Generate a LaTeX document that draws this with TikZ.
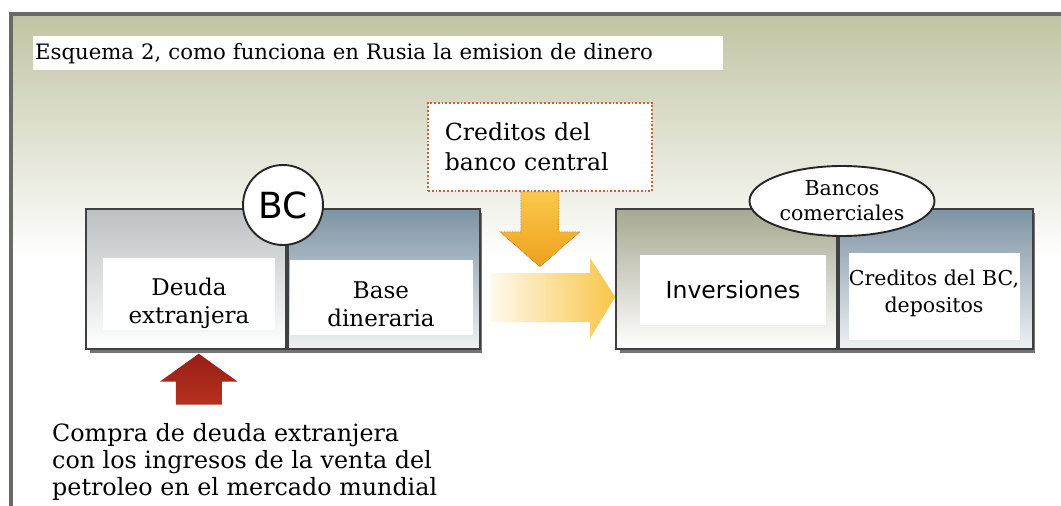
\documentclass[tikz,border=0pt]{standalone}
\usepackage{fontspec}
\setmainfont{DejaVu Serif}
\setsansfont{DejaVu Sans}
\usetikzlibrary{shapes.geometric,shadows,positioning}

\definecolor{frameline}{HTML}{676A66}
\definecolor{olivetop}{HTML}{C0C4A2}
\definecolor{bcgray}{HTML}{BCC0C2}
\definecolor{bcblue}{HTML}{7D93A3}
\definecolor{bcblueb}{HTML}{EEF1F3}
\definecolor{oliveside}{HTML}{A6A88F}
\definecolor{panelline}{HTML}{3E4042}
\definecolor{dotorange}{HTML}{C8622E}
\definecolor{yelA}{HTML}{F9C94C}
\definecolor{yelB}{HTML}{EEA01C}
\definecolor{redA}{HTML}{941E14}
\definecolor{redB}{HTML}{B63020}

\newcommand{\fsz}[2]{\fontsize{#1}{#2}\selectfont}

\begin{document}
\begin{tikzpicture}[x=1pt, y=-1pt,
    panel/.style={fill=white, minimum height=140pt, inner sep=0pt,
        drop shadow={shadow xshift=5pt, shadow yshift=-5pt, fill=black!55, opacity=1}},
    half/.style={draw=panelline, line width=1.9pt, minimum height=140pt, inner sep=0pt, anchor=north west},
    slot/.style={fill=white, inner sep=0pt},
    slottext/.style={inner sep=0pt, align=center, font=\fsz{23}{28}},
    titlebox/.style={fill=white, anchor=north west, inner sep=2pt, text width=686pt,
        minimum height=34pt, align=left, font=\fsz{21.2}{24}},
    credbox/.style={draw=dotorange, line width=1.8pt, dotted, fill=white, anchor=north west,
        minimum width=224pt, minimum height=88pt, text width=190pt, align=left, font=\fsz{23.5}{30}},
    bubble/.style={ellipse, draw=black!85, line width=1.9pt, fill=white, inner sep=0pt, align=center},
    yelarrow/.style={top color=yelA, bottom color=yelB, draw=dotorange!80!black, line width=0.6pt, densely dotted},
    redarrow/.style={top color=redA, bottom color=redB}
]
\useasboundingbox (0,0) rectangle (1061,506);
\fill[white] (0,0) rectangle (1061,506);
\shade[top color=olivetop, bottom color=white] (11,14) rectangle (1061,260);
\draw[frameline, line width=3.5pt] (11,506) -- (11,14) -- (1061,14);

\node[titlebox] (title) at (33,36) {Esquema 2, como funciona en Rusia la emision de dinero};

\node[panel, minimum width=392pt] (bc) at (281,278) {};
\node[half, minimum width=200pt, top color=bcgray, bottom color=white] (bcdebt) at (bc.north west) {};
\node[half, minimum width=192pt, top color=bcblue, bottom color=bcblueb, right=0pt of bcdebt] (bcbase) {};
\node[slot, minimum width=172pt, minimum height=72pt] (debt) at (189,294) {};
\node[slot, minimum width=183pt, minimum height=75pt] (base) at (381,297) {};
\node[slottext] (debttext) at ([yshift=-9pt]debt) {Deuda\\extranjera};
\node[slottext] (basetext) at ([yshift=-7pt]base) {Base\\dineraria};
\node[circle, draw=black!85, line width=1.9pt, fill=white, minimum size=80pt, inner sep=0pt,
    font=\sffamily\fsz{36}{36}] (bcmark) at (283,205) {BC};

\node[panel, minimum width=415pt] (bank) at (822.5,278) {};
\node[half, minimum width=221pt, top color=oliveside, bottom color=white] (bankinv) at (bank.north west) {};
\node[half, minimum width=194pt, top color=bcblue, bottom color=bcblueb, right=0pt of bankinv] (bankdep) {};
\node[slot, minimum width=186pt, minimum height=70pt] (invest) at (733,290) {};
\node[slot, minimum width=171pt, minimum height=87pt] (deposit) at (934,296) {};
\node[slottext, font=\sffamily\fsz{23.5}{28}] (investtext) at (invest) {Inversiones};
\node[slottext, font=\fsz{20.5}{27}] (deposittext) at ([yshift=3pt]deposit) {Creditos del BC,\\depositos};
\node[bubble, minimum width=185pt, minimum height=70pt, font=\fsz{20.5}{25}] (banks) at (842,201) {Bancos\\comerciales};

\node[credbox] (credits) at (427,102) {Creditos del\\banco central};

\path[yelarrow] (credits.south) ++(-19,0) -- ++(38,0) -- ++(0,40) -- ++(21,0)
    -- ++(-40,35) -- ++(-40,-35) -- ++(21,0) -- cycle;
\path[left color=white, right color=yelA!90!yelB] (bc.east) ++(13,-5) -- ++(100,0) -- ++(0,-15)
    -- ++(25,39) -- ++(-25,41) -- ++(0,-16) -- ++(-100,0) -- cycle;
\path[redarrow] (bcdebt.south) ++(13,4) -- ++(39,28) -- ++(-16,0) -- ++(0,23)
    -- ++(-46,0) -- ++(0,-23) -- ++(-16,0) -- cycle;

\node[anchor=north west, align=left, inner sep=0pt, font=\fsz{23.8}{27}] (note) at (52,423)
    {Compra de deuda extranjera\\con los ingresos de la venta del\\petroleo en el mercado mundial};

\end{tikzpicture}
\end{document}
